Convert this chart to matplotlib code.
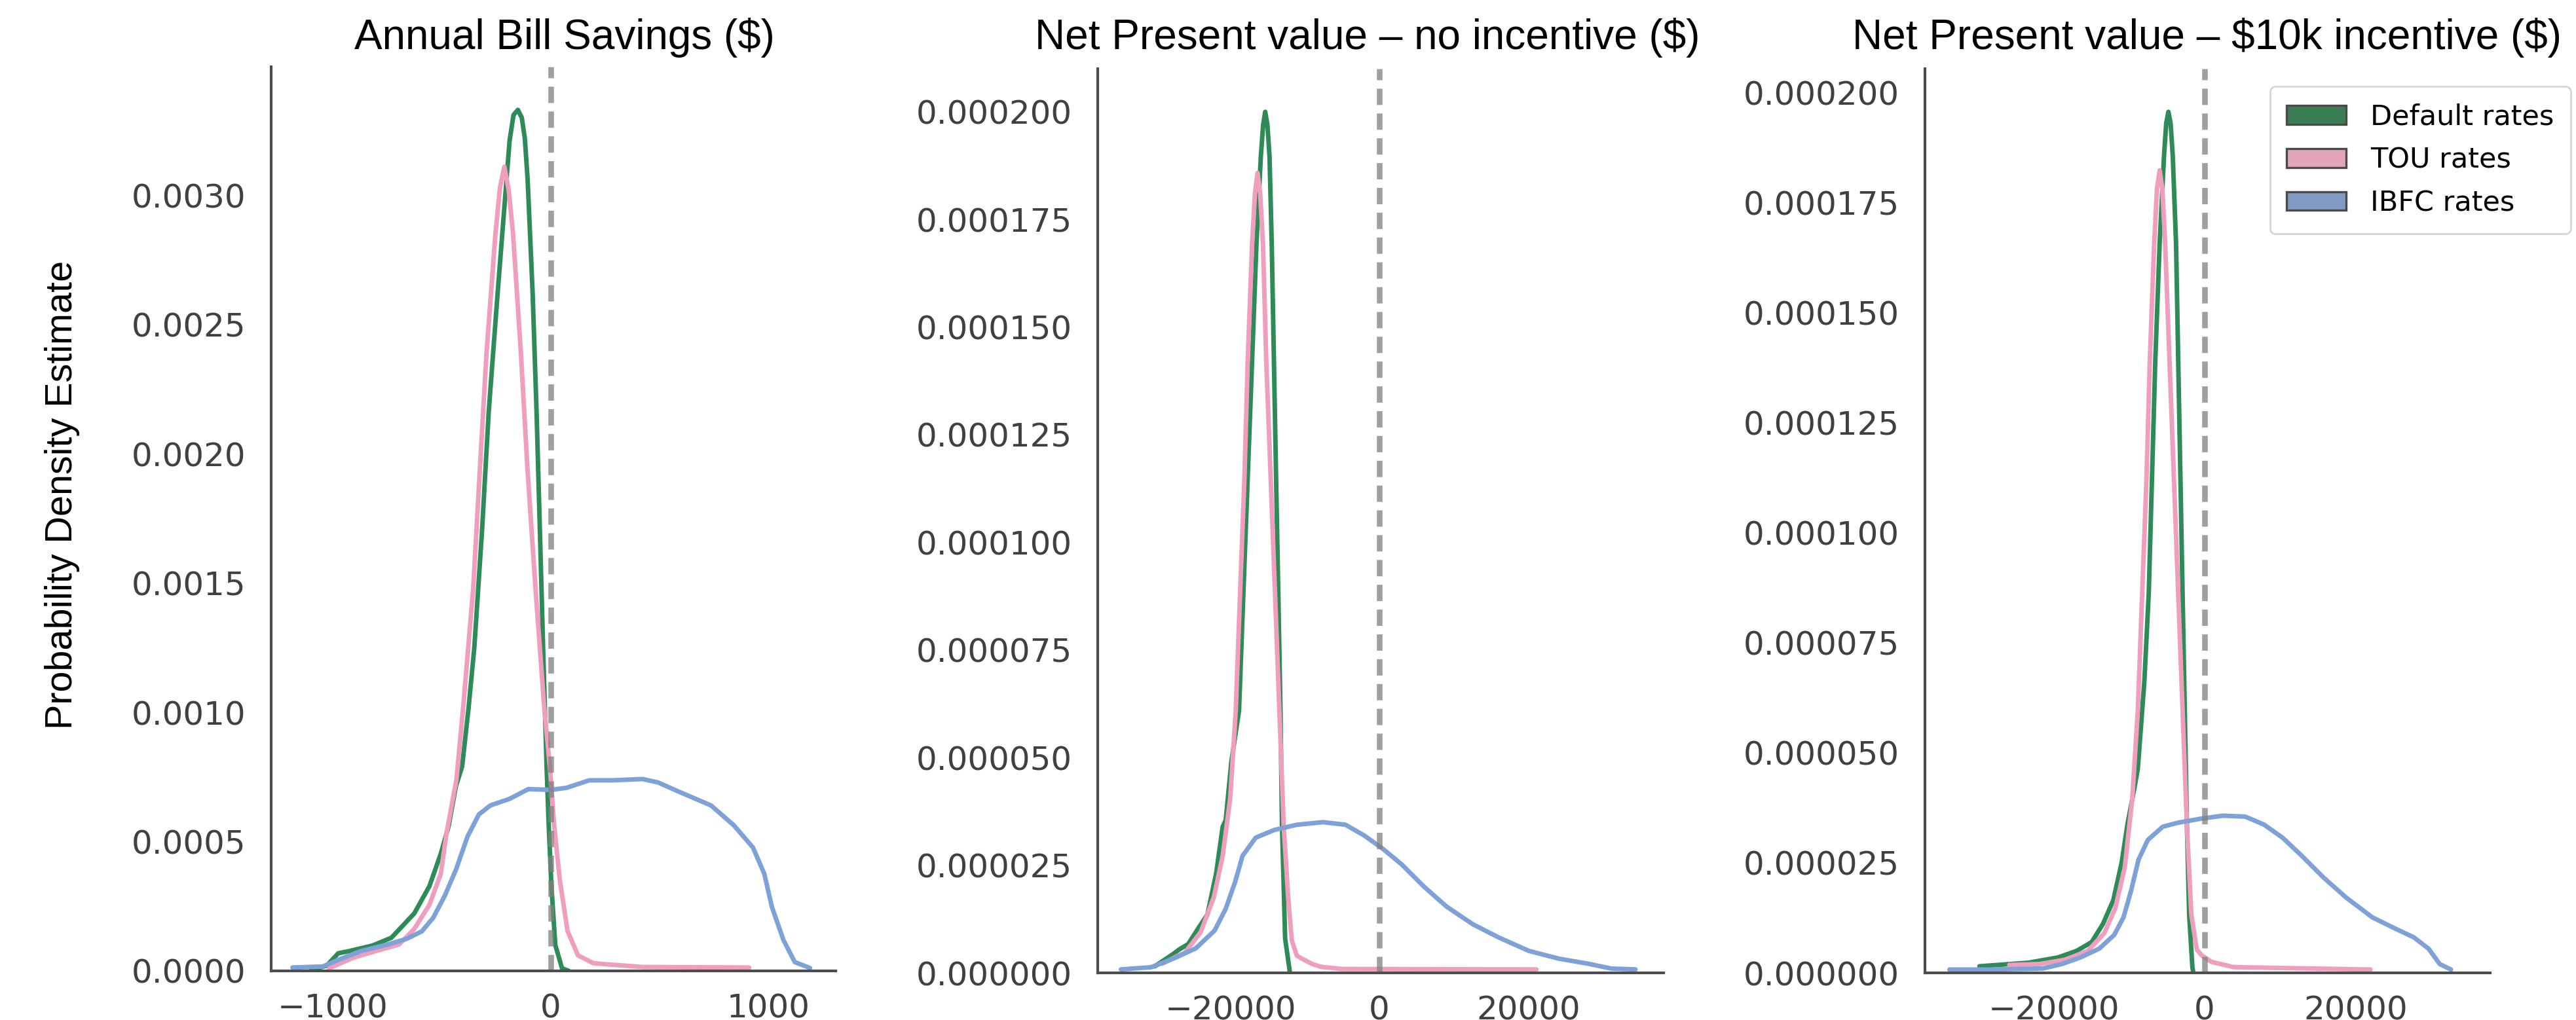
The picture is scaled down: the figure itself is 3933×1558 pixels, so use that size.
import matplotlib
matplotlib.use("Agg")
import matplotlib.pyplot as plt
from matplotlib.patches import Patch
from matplotlib.ticker import MultipleLocator, FormatStrFormatter

# ---------------- data ----------------
series_names = ["Default rates", "TOU rates", "IBFC rates"]
panel_titles = ["Annual Bill Savings (\\$)",
                "Net Present value \u2013 no incentive (\\$)",
                "Net Present value \u2013 \\$10k incentive (\\$)"]
y_label = "Probability Density Estimate"

# Panel 1: Annual bill savings density
bill_default_x = [-1100, -1028, -975, -923, -818, -731, -626, -556, -504, -468, -434, -406, -376, -350,
                  -314, -284, -243, -202, -188, -170, -150, -132, -118, -105, -82, -64, -49, -34, -18, -8,
                  4, 22, 53, 84]
bill_default_y = [0.000004, 0.00002, 0.000068, 0.000077, 0.000098, 0.000128, 0.000222, 0.000328, 0.000453,
                  0.00056, 0.000716, 0.00079, 0.00102, 0.00125, 0.00171, 0.00216, 0.00262, 0.00306,
                  0.00321, 0.00331, 0.00333, 0.00330, 0.00322, 0.00306, 0.00262, 0.00216, 0.00171,
                  0.00125, 0.00079, 0.00056, 0.00033, 0.0001, 0.00001, 0.0]
bill_tou_x = [-1017, -906, -801, -696, -626, -556, -504, -478, -432, -401, -355, -325, -294, -253, -232,
              -212, -192, -172, -136, -105, -69, -29, -3, 17, 43, 78, 126, 196, 248, 349, 423, 912]
bill_tou_y = [0.00001, 0.000051, 0.000077, 0.000102, 0.000162, 0.000256, 0.000375, 0.00053, 0.00074,
              0.00102, 0.00148, 0.00193, 0.00239, 0.00285, 0.00303, 0.00311, 0.00302, 0.00285, 0.00239,
              0.00193, 0.00148, 0.00102, 0.00079, 0.00056, 0.00035, 0.000155, 0.00006, 0.00003,
              0.000026, 0.00002, 0.000015, 0.000013]
bill_ibfc_x = [-1185, -1046, -975, -871, -748, -661, -591, -539, -486, -434, -381, -329, -276, -189,
               -102, 3, 73, 178, 283, 423, 493, 598, 737, 842, 930, 982, 1017, 1070, 1122, 1192]
bill_ibfc_y = [0.000013, 0.000017, 0.0000426, 0.0000767, 0.000102, 0.000124, 0.000153, 0.000205,
               0.00029, 0.000392, 0.00052, 0.000605, 0.00064, 0.000665, 0.000703, 0.0007, 0.000708,
               0.000737, 0.000737, 0.000742, 0.000729, 0.00069, 0.00064, 0.000563, 0.000477, 0.000375,
               0.000247, 0.000119, 0.000034, 0.000011]

# Panel 2: NPV without incentive
npv_default_x = [-30160, -27653, -26897, -25642, -25139, -24136, -23090, -21914, -21035, -20620, -19866,
                 -18838, -18257, -17668, -17083, -16497, -15910, -15600, -15323, -15030, -14741, -14445,
                 -14152, -13862, -13563, -13273, -13071, -12650, -12000]
npv_default_y = [0.0000015, 0.0000044, 0.0000054, 0.0000067, 0.0000081, 0.0000108, 0.0000135, 0.000023,
                 0.0000339, 0.0000355, 0.000049, 0.0000609, 0.000088, 0.0001151, 0.0001422, 0.0001693,
                 0.0001896, 0.000197, 0.0002, 0.000197, 0.0001896, 0.0001693, 0.0001422, 0.0001151,
                 0.000088, 0.0000609, 0.0000345, 0.000008, 0.0]
npv_tou_x = [-29160, -26897, -26143, -23970, -22212, -21035, -20015, -19277, -18697, -18107, -17668,
             -17083, -16700, -16349, -16000, -15620, -15181, -14591, -14003, -13422, -12833, -12245,
             -11750, -11075, -10487, -9065, -7850, -5048, 21070]
npv_tou_y = [0.0000021, 0.0000041, 0.0000046, 0.0000095, 0.0000176, 0.0000271, 0.0000406, 0.0000609,
             0.000088, 0.0001151, 0.0001422, 0.0001693, 0.000181, 0.0001858, 0.000181, 0.0001693,
             0.0001422, 0.0001151, 0.000088, 0.0000609, 0.0000339, 0.0000176, 0.0000075, 0.000004,
             0.0000034, 0.0000021, 0.0000014, 0.0000009, 0.0000008]
npv_ibfc_x = [-34686, -30668, -27653, -24638, -22125, -20620, -19364, -18359, -16601, -14088, -11075,
              -7559, -4545, -2033, 478, 2989, 6002, 9016, 12532, 16048, 20066, 24085, 28103, 31117, 34380]
npv_ibfc_y = [0.0000008, 0.0000013, 0.0000033, 0.0000057, 0.0000098, 0.0000149, 0.0000211, 0.0000272,
              0.0000314, 0.0000332, 0.0000344, 0.000035, 0.0000344, 0.0000319, 0.0000288, 0.0000252,
              0.00002, 0.0000154, 0.0000113, 0.0000082, 0.0000051, 0.0000033, 0.0000021, 0.000001,
              0.0000008]

# Panel 3: NPV with $10k incentive
inc_default_x = [-29836, -23391, -19424, -16944, -14960, -13474, -12100, -11000, -10200, -9300, -8850,
                 -7982, -7404, -6970, -6536, -5958, -5379, -5090, -4801, -4510, -4222, -3789, -3499,
                 -3210, -2921, -2632, -2343, -2053, -1620, -1500]
inc_default_y = [0.0000015, 0.0000023, 0.0000035, 0.000005, 0.000007, 0.0000111, 0.0000165, 0.000025,
                 0.000034, 0.000042, 0.0000464, 0.0000663, 0.0000862, 0.0001127, 0.0001392, 0.0001658,
                 0.0001856, 0.000193, 0.0001956, 0.000193, 0.0001856, 0.0001658, 0.0001392, 0.0001127,
                 0.0000862, 0.0000597, 0.0000332, 0.0000133, 0.0000013, 0.0]
inc_tou_x = [-25870, -21906, -18430, -15480, -13300, -11850, -10585, -9573, -8850, -8271, -7693, -7259,
             -6680, -6320, -5958, -5600, -5234, -4656, -4078, -3499, -2921, -2343, -1764, -1041, -400,
             900, 3880, 21979]
inc_tou_y = [0.0000018, 0.000002, 0.000003, 0.000005, 0.000009, 0.0000146, 0.0000239, 0.0000398,
             0.0000597, 0.0000862, 0.0001127, 0.0001392, 0.0001658, 0.000178, 0.0001823, 0.000178,
             0.0001658, 0.0001392, 0.0001127, 0.0000862, 0.0000597, 0.0000332, 0.0000133, 0.0000053,
             0.000004, 0.0000025, 0.0000013, 0.00000075]
inc_ibfc_x = [-33806, -28348, -21406, -18925, -16450, -13970, -11986, -10751, -9753, -8764, -7523,
              -5543, -3558, -583, 2395, 5370, 7845, 10326, 12806, 15782, 18751, 22223, 25198, 27680,
              29665, 31150, 32635]
inc_ibfc_y = [0.00000075, 0.00000075, 0.000001, 0.000002, 0.0000035, 0.0000055, 0.0000086, 0.0000126,
              0.0000186, 0.0000257, 0.0000302, 0.0000332, 0.0000341, 0.000035, 0.0000357, 0.0000355,
              0.0000337, 0.0000307, 0.0000267, 0.0000216, 0.0000171, 0.0000126, 0.0000101, 0.0000081,
              0.0000055, 0.000002, 0.00000075]

panel_curves = [
    [(bill_default_x, bill_default_y), (bill_tou_x, bill_tou_y), (bill_ibfc_x, bill_ibfc_y)],
    [(npv_default_x, npv_default_y), (npv_tou_x, npv_tou_y), (npv_ibfc_x, npv_ibfc_y)],
    [(inc_default_x, inc_default_y), (inc_tou_x, inc_tou_y), (inc_ibfc_x, inc_ibfc_y)],
]
panel_xlims = [(-1283, 1310), (-37800, 38150), (-37050, 37830)]
x_tick_step = [1000, 20000, 20000]
y_tick_step = [0.0005, 0.000025, 0.000025]
y_tick_fmt = ["%.4f", "%.6f", "%.6f"]

# ---------------- style ----------------
line_colors = ["#2e8b57", "#f09ebd", "#7ea1d8"]
legend_colors = ["#3a7d54", "#e3a5ba", "#7f9bc1"]
label_font = ["Liberation Sans", "DejaVu Sans"]

W, H = 3933, 1558
fig = plt.figure(figsize=(W / 200, H / 200), dpi=200)
plt.rcParams["font.family"] = ["DejaVu Sans"]

# axes boxes in pixel units (left, right, top, bottom)
boxes = [(414, 1276, 102, 1483), (1676, 2540, 105, 1486), (2939, 3802, 105, 1486)]
title_centers = [862, 2088, 3370]

for i, (l, r, t, b) in enumerate(boxes):
    ax = fig.add_axes([l / W, (H - b) / H, (r - l) / W, (b - t) / H])
    for (xs, ys), c in zip(panel_curves[i], line_colors):
        ax.plot(xs, ys, color=c, lw=2.5, solid_joinstyle="round", solid_capstyle="round")
    ax.axvline(0, color="grey", alpha=0.75, lw=3.1, ls=(0, (2.9, 1.5)))
    ax.set_xlim(*panel_xlims[i])
    ax.autoscale(axis="y")
    ax.set_ylim(bottom=0)
    ax.xaxis.set_major_locator(MultipleLocator(x_tick_step[i]))
    ax.yaxis.set_major_locator(MultipleLocator(y_tick_step[i]))
    ax.yaxis.set_major_formatter(FormatStrFormatter(y_tick_fmt[i]))
    for s in ["top", "right"]:
        ax.spines[s].set_visible(False)
    for s in ["left", "bottom"]:
        ax.spines[s].set_color("0.3")
        ax.spines[s].set_linewidth(1.5)
    ax.tick_params(axis="both", length=0, labelsize=18, labelcolor="0.25")
    ax.tick_params(axis="y", pad=14)
    ax.tick_params(axis="x", pad=12)
    fig.text(title_centers[i] / W, 1 - 74.5 / H, panel_titles[i], ha="center", va="baseline",
             fontsize=23, color="black", family=label_font)

fig.text(95 / W, 0.515, y_label, rotation=90, ha="center", va="center",
         fontsize=20.7, color="black", family=label_font)

handles = [Patch(facecolor=c, edgecolor="#4a4a4a", linewidth=1.2) for c in legend_colors]
fig.legend(handles, series_names, loc="upper right",
           bbox_to_anchor=(3925 / W, 1 - 132 / H), fontsize=15.5,
           frameon=True, edgecolor="0.8", fancybox=True,
           handlelength=2.1, handleheight=0.65, handletextpad=0.86,
           labelspacing=0.55, borderpad=0.6, borderaxespad=0)

fig.savefig("out.png", dpi=200)
